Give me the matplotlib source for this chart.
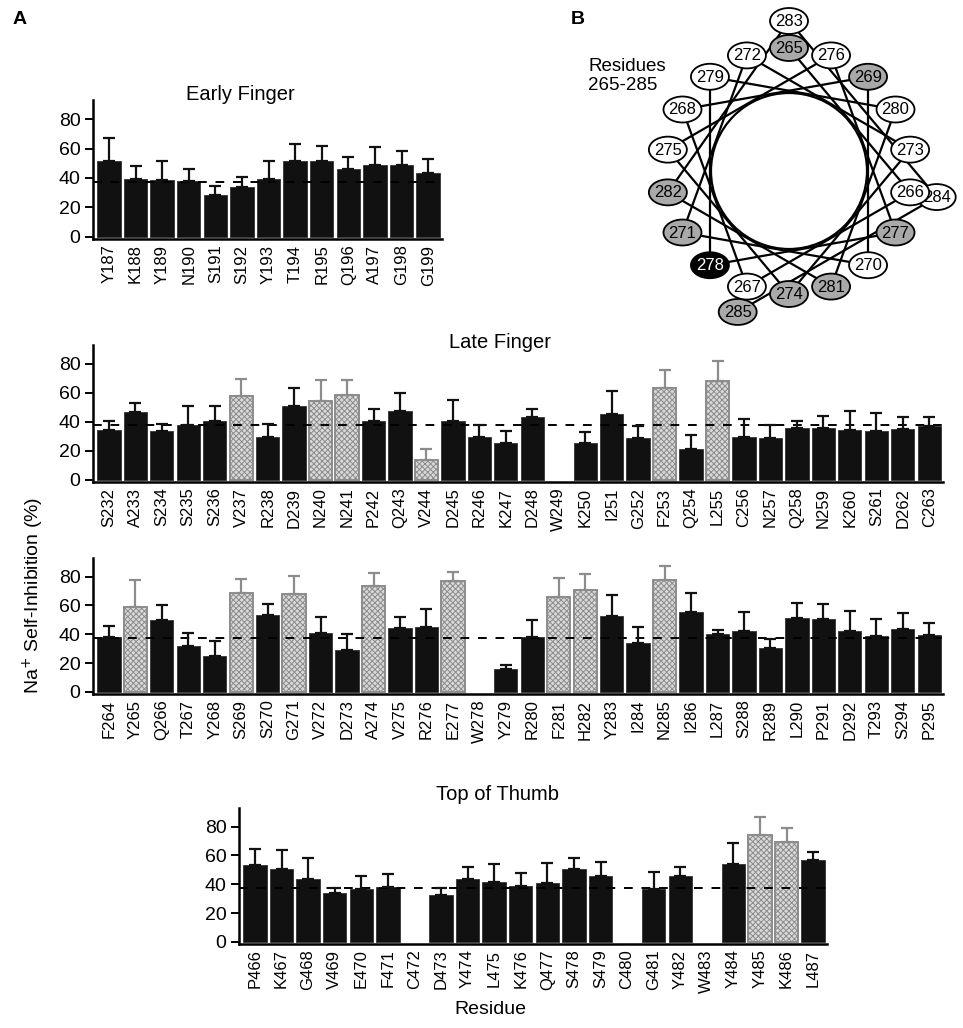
import numpy as np
import matplotlib
matplotlib.use("Agg")
import matplotlib.pyplot as plt
from matplotlib.patches import Ellipse, Circle

plt.rcParams['font.family'] = ['Liberation Sans', 'DejaVu Sans']
plt.rcParams['hatch.linewidth'] = 0.7

nan = np.nan

# --- data ---
wt_level = 37.5

early_res = ['Y187', 'K188', 'Y189', 'N190', 'S191', 'S192', 'Y193', 'T194',
             'R195', 'Q196', 'A197', 'G198', 'G199']
early_val = [51.8, 39.3, 38.6, 38.0, 28.4, 33.6, 39.0, 51.4, 51.4, 45.9, 48.9, 49.1, 43.2]
early_err = [15.7, 8.9, 12.8, 7.9, 6.4, 7.3, 12.4, 11.6, 10.6, 8.4, 12.2, 9.1, 9.5]

late_res = ['S232', 'A233', 'S234', 'S235', 'S236', 'V237', 'R238', 'D239',
            'N240', 'N241', 'P242', 'Q243', 'V244', 'D245', 'R246', 'K247',
            'D248', 'W249', 'K250', 'I251', 'G252', 'F253', 'Q254', 'L255',
            'C256', 'N257', 'Q258', 'N259', 'K260', 'S261', 'D262', 'C263']
late_val = [34.3, 46.9, 33.8, 37.8, 40.3, 57.6, 29.6, 51.0, 54.5, 58.5, 40.8, 47.8,
            13.8, 40.8, 29.6, 25.4, 43.1, nan, 25.4, 45.7, 29.1, 63.4, 21.0, 68.3,
            29.6, 29.1, 35.9, 35.9, 34.7, 34.0, 35.0, 37.1]
late_err = [6.0, 6.0, 4.4, 13.2, 10.7, 12.1, 8.6, 12.4, 14.3, 10.3, 7.9, 12.1,
            7.6, 14.0, 8.2, 8.2, 5.9, nan, 7.5, 15.6, 8.0, 12.1, 10.0, 14.0,
            12.6, 8.7, 4.4, 8.1, 12.6, 12.4, 8.6, 6.3]

mid_res = ['F264', 'Y265', 'Q266', 'T267', 'Y268', 'S269', 'S270', 'G271',
           'V272', 'D273', 'A274', 'V275', 'R276', 'E277', 'W278', 'Y279',
           'R280', 'F281', 'H282', 'Y283', 'I284', 'N285', 'I286', 'L287',
           'S288', 'R289', 'L290', 'P291', 'D292', 'T293', 'S294', 'P295']
mid_val = [38.0, 59.0, 50.1, 32.2, 24.9, 69.0, 53.4, 68.1, 41.0, 28.9, 73.2, 44.3,
           45.2, 76.7, nan, 15.6, 37.8, 65.7, 70.6, 52.7, 33.8, 77.9, 55.2, 40.1,
           42.0, 30.5, 51.5, 50.6, 42.0, 38.5, 43.4, 39.4]
mid_err = [7.9, 18.6, 10.5, 8.4, 10.3, 9.1, 7.7, 12.6, 10.7, 11.2, 9.1, 7.4,
           12.6, 6.5, nan, 3.0, 11.9, 13.3, 11.2, 14.9, 11.0, 9.5, 13.3, 2.8,
           13.7, 6.1, 10.3, 10.7, 14.2, 12.1, 11.1, 8.4]

thumb_res = ['P466', 'K467', 'G468', 'V469', 'E470', 'F471', 'C472', 'D473',
             'Y474', 'L475', 'K476', 'Q477', 'S478', 'S479', 'C480', 'G481',
             'Y482', 'W483', 'Y484', 'Y485', 'K486', 'L487']
thumb_val = [53.4, 50.3, 43.9, 33.9, 36.4, 38.3, nan, 32.7, 43.4, 41.5, 38.5, 40.6,
             50.3, 45.7, nan, 36.4, 45.9, nan, 54.1, 74.2, 69.6, 56.6]
thumb_err = [11.3, 13.3, 14.6, 3.7, 9.1, 8.6, nan, 4.4, 8.3, 12.6, 9.1, 14.4,
             8.2, 10.0, nan, 12.1, 6.3, nan, 14.8, 12.8, 9.3, 5.6]

# residues that differ significantly (hatched bars)
significant = ['V237', 'N240', 'N241', 'V244', 'F253', 'L255',
               'Y265', 'S269', 'G271', 'A274', 'E277', 'F281', 'H282', 'N285',
               'Y485', 'K486']

# helical wheel
wheel_res = list(range(265, 286))
wheel_gray = [265, 269, 271, 274, 277, 281, 282, 285]
wheel_black = [278]

W, H = 963, 1028
fig = plt.figure(figsize=(W / 100, H / 100), dpi=100)


def px_axes(left, top, right, bottom):
    return fig.add_axes([left / W, 1 - bottom / H, (right - left) / W, (bottom - top) / H])


def bar_panel(ax, labels, vals, errs):
    vals = np.array(vals, float)
    errs = np.array(errs, float)
    x = np.arange(len(labels))
    sig = np.isin(labels, significant)
    ok = ~np.isnan(vals)

    black = ok & ~sig
    gray = ok & sig
    ax.bar(x[black], vals[black], width=0.88, color='#111111', edgecolor='#333333',
           linewidth=0.6, zorder=2)
    bars = ax.bar(x[gray], vals[gray], width=0.88, color='#d9d9d9', edgecolor='#8c8c8c',
                  linewidth=1.4, zorder=2)
    for b in bars:
        b.set_hatch('xxxxxx')

    ax.errorbar(x[black], vals[black], yerr=[np.zeros(black.sum()), errs[black]],
                fmt='none', ecolor='#111111', elinewidth=1.6, capsize=4, capthick=1.6, zorder=4)
    ax.errorbar(x[gray], vals[gray], yerr=[np.zeros(gray.sum()), errs[gray]],
                fmt='none', ecolor='#8c8c8c', elinewidth=1.6, capsize=4, capthick=1.6, zorder=4)

    ax.axhline(wt_level, color='black', linestyle=(0, (4.5, 4.5)), linewidth=1.4, zorder=3)

    ax.set_xlim(-0.6, len(labels) - 0.48)
    ax.set_ylim(-1.5, 93)
    ax.set_yticks([0, 20, 40, 60, 80])
    ax.set_xticks(x)
    ax.set_xticklabels(labels, rotation=90, fontsize=12)
    ax.tick_params(axis='x', length=0, pad=4)
    ax.tick_params(axis='y', length=6, width=1.4, labelsize=14, pad=3)
    for s in ['top', 'right']:
        ax.spines[s].set_visible(False)
    for s in ['left', 'bottom']:
        ax.spines[s].set_linewidth(1.8)


ax1 = px_axes(93, 100, 442, 239)
bar_panel(ax1, early_res, early_val, early_err)
fig.text(240 / W, 1 - 95 / H, 'Early Finger', ha='center', va='center', fontsize=14.5)

ax2 = px_axes(93, 345, 943, 482)
bar_panel(ax2, late_res, late_val, late_err)
fig.text(500 / W, 1 - 343 / H, 'Late Finger', ha='center', va='center', fontsize=14.5)

ax3 = px_axes(93, 558, 943, 694)
bar_panel(ax3, mid_res, mid_val, mid_err)

ax4 = px_axes(239, 808, 827, 944)
bar_panel(ax4, thumb_res, thumb_val, thumb_err)
fig.text(498 / W, 1 - 795 / H, 'Top of Thumb', ha='center', va='center', fontsize=14.5)

fig.text(490 / W, 1 - 1010 / H, 'Residue', ha='center', va='center', fontsize=14)
fig.text(33 / W, 1 - 595 / H, 'Na$^{+}$ Self-Inhibition (%)', ha='center', va='center',
         rotation=90, fontsize=14)

fig.text(20 / W, 1 - 20 / H, 'A', ha='center', va='center', fontsize=14, fontweight='bold')
fig.text(578 / W, 1 - 20 / H, 'B', ha='center', va='center', fontsize=14, fontweight='bold')

# --- helical wheel (axes in pixel units) ---
axw = px_axes(600, 0, 963, 330)
axw.set_xlim(600, 963)
axw.set_ylim(330, 0)
axw.set_aspect('equal')
axw.axis('off')

cx, cy = 789, 171
pos = {}
for r in wheel_res:
    n = r - 265
    ang = np.deg2rad((n * 100) % 360)
    rad = 123 if n < 18 else 150
    pos[r] = (cx + rad * np.sin(ang), cy - rad * np.cos(ang))

axw.add_patch(Circle((cx, cy), 78, fill=False, linewidth=1.6, edgecolor='black', zorder=1))
for a, b in zip(wheel_res[:-1], wheel_res[1:]):
    axw.plot([pos[a][0], pos[b][0]], [pos[a][1], pos[b][1]], color='black',
             linewidth=1.6, zorder=1, solid_capstyle='butt')

for r in wheel_res:
    if r in wheel_black:
        fc, tc = 'black', 'white'
    elif r in wheel_gray:
        fc, tc = '#a9a9a9', 'black'
    else:
        fc, tc = 'white', 'black'
    z = 3 if r - 265 < 18 else 2
    axw.add_patch(Ellipse(pos[r], 38, 26, facecolor=fc, edgecolor='black',
                          linewidth=1.3, zorder=z))
    axw.text(pos[r][0], pos[r][1] + 0.5, str(r), ha='center', va='center',
             fontsize=12, color=tc, zorder=z)

fig.text(588 / W, 1 - 76 / H, 'Residues\n265-285', ha='left', va='center',
         fontsize=13.5, linespacing=1.15)

fig.savefig('out.png', dpi=100)
